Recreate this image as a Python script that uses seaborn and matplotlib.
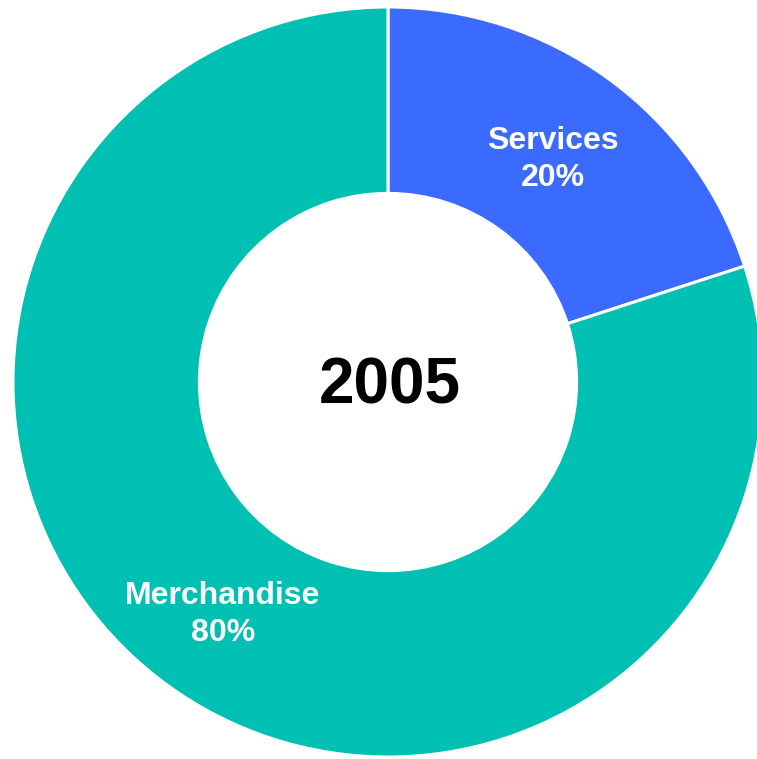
import numpy as np
import matplotlib
matplotlib.use("Agg")
import matplotlib.pyplot as plt
import seaborn as sns

sns.set_style("white")
plt.rcParams["font.family"] = ["Liberation Sans", "DejaVu Sans"]

categories = ["Services", "Merchandise"]
shares = [20, 80]
colors = ["#3A6AFF", "#00BFB3"]
year = "2005"

W, H = 757, 759
fig = plt.figure(figsize=(W / 100, H / 100), dpi=100)
ax = fig.add_axes([0, 0, 1, 1])

cx, cy, R = 388, H - 382, 375
wedges, _ = ax.pie(
    shares,
    colors=colors,
    startangle=90,
    counterclock=False,
    center=(cx, cy),
    radius=R,
    frame=True,
    wedgeprops=dict(width=R * 0.497, edgecolor="white", linewidth=2.2),
)
ax.set_xlim(0, W)
ax.set_ylim(0, H)
ax.set_aspect("equal")
ax.axis("off")

for w, name, val in zip(wedges, categories, shares):
    mid = np.deg2rad((w.theta1 + w.theta2) / 2)
    r = R * 0.75
    ax.text(cx + r * np.cos(mid), cy + r * np.sin(mid) - 5, f"{name}\n{val}%",
            ha="center", va="center", color="white", fontsize=23,
            fontweight="bold", linespacing=1.32)

ax.text(cx + 2, cy - 5, year, ha="center", va="center", fontsize=46,
        fontweight="bold", color="black")

fig.savefig("out.png", dpi=100)
